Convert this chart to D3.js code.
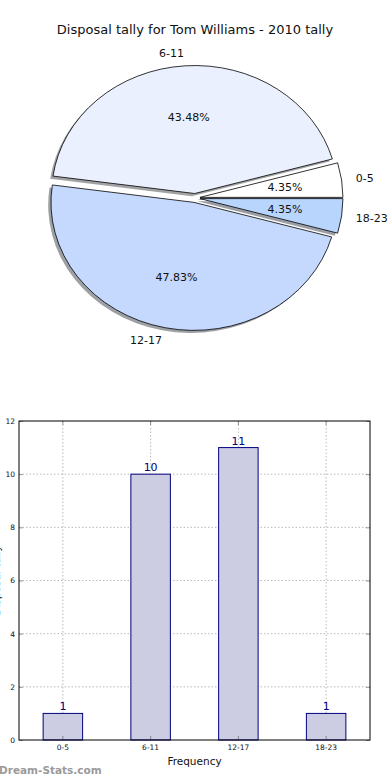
<!DOCTYPE html>
<html><head><meta charset="utf-8">
<script src="https://cdn.jsdelivr.net/npm/d3@7"></script>
<style>body{margin:0;background:#fff}svg{display:block;font-family:"DejaVu Sans",sans-serif}</style>
</head><body>
<svg id="c" width="390" height="780"></svg>
<script>
const categories = ["0-5", "6-11", "12-17", "18-23"];
const values = [1, 10, 11, 1];
const pieColors = ["#ffffff", "#eaf0fd", "#c5d8fd", "#b8d5fd"];
const yTicks = [0, 2, 4, 6, 8, 10, 12];
const title = "Disposal tally for Tom Williams - 2010 tally";

const svg = d3.select("#c");

// ---------- Pie ----------
const cx = 195, cy = 198, rx = 143, ry = 128, explode = 0.035;
svg.append("text").attr("x", 195).attr("y", 34).attr("text-anchor", "middle")
  .attr("font-size", 13).attr("fill", "#111").text(title);

const pie = d3.pie().sort(null).startAngle(Math.PI / 2).endAngle(Math.PI / 2 - 2 * Math.PI);
const arcs = pie(values);
const arc = d3.arc().innerRadius(0).outerRadius(rx);
const total = d3.sum(values);
const fmt = d3.format(".2f");

function off(a) {
  const m = (a.startAngle + a.endAngle) / 2;
  return [explode * rx * Math.sin(m), -explode * ry * Math.cos(m), m];
}
function shade(c) { const r = d3.rgb(c); return d3.rgb(r.r * 0.3, r.g * 0.3, r.b * 0.3).toString(); }

const pg = svg.append("g");
// shadows
arcs.forEach((a, i) => {
  const [ox, oy] = off(a);
  pg.append("g").attr("transform", `translate(${cx + ox - 2.8},${cy + oy + 2.6}) scale(1,${ry / rx})`)
    .append("path").attr("d", arc(a)).attr("fill", shade(pieColors[i])).attr("opacity", 0.5);
});
// wedges
arcs.forEach((a, i) => {
  const [ox, oy] = off(a);
  pg.append("g").attr("transform", `translate(${cx + ox},${cy + oy}) scale(1,${ry / rx})`)
    .append("path").attr("d", arc(a)).attr("fill", pieColors[i])
    .attr("stroke", "#000").attr("stroke-width", 0.8).attr("vector-effect", "non-scaling-stroke")
    .attr("stroke-linejoin", "round");
});
// labels
arcs.forEach((a, i) => {
  const [ox, oy, m] = off(a);
  const sx = Math.sin(m), cyy = Math.cos(m);
  const lx = cx + ox + 1.1 * rx * sx, ly = cy + oy - 1.1 * ry * cyy;
  svg.append("text").attr("x", lx).attr("y", ly).attr("dy", "0.35em")
    .attr("text-anchor", sx < 0 ? "end" : "start").attr("font-size", 11).attr("fill", "#111")
    .text(categories[i]);
  const px = cx + ox + 0.6 * rx * sx, py = cy + oy - 0.6 * ry * cyy;
  svg.append("text").attr("x", px).attr("y", py).attr("dy", "0.35em")
    .attr("text-anchor", "middle").attr("font-size", 11).attr("fill", "#111")
    .text(fmt(values[i] / total * 100) + "%");
});

// ---------- Bar chart ----------
const L = 19, R = 370, T = 421, B = 740;
const x = d3.scaleBand().domain(categories).range([L, R]).paddingInner(0.55).paddingOuter(0.275);
const y = d3.scaleLinear().domain([0, 12]).range([B, T]);
const bg = svg.append("g");

// grid
bg.selectAll(".hg").data(yTicks.slice(1, -1)).join("line")
  .attr("x1", L).attr("x2", R).attr("y1", d => y(d)).attr("y2", d => y(d))
  .attr("stroke", "#b8b8b8").attr("stroke-width", 1).attr("stroke-dasharray", "1.5,2");
bg.selectAll(".vg").data(categories).join("line")
  .attr("x1", d => x(d) + x.bandwidth() / 2).attr("x2", d => x(d) + x.bandwidth() / 2)
  .attr("y1", T).attr("y2", B)
  .attr("stroke", "#b8b8b8").attr("stroke-width", 1).attr("stroke-dasharray", "1.5,2");

// bars
bg.selectAll(".bar").data(values).join("rect")
  .attr("x", (d, i) => x(categories[i])).attr("width", x.bandwidth())
  .attr("y", d => y(d)).attr("height", d => y(0) - y(d))
  .attr("fill", "#ccccE3").attr("stroke", "#000080").attr("stroke-width", 1);
bg.selectAll(".bl").data(values).join("text")
  .attr("x", (d, i) => x(categories[i]) + x.bandwidth() / 2).attr("y", d => y(d) - 3)
  .attr("text-anchor", "middle").attr("font-size", 11).attr("fill", "#000080").text(d => d);

// axes
const yAxis = d3.axisLeft(y).tickValues(yTicks).tickSize(-4).tickPadding(4);
const ya = bg.append("g").attr("transform", `translate(${L},0)`).call(yAxis);
ya.selectAll("text").attr("font-size", 7.5).attr("fill", "#111").attr("font-family", "DejaVu Sans");
ya.select(".domain").remove();
ya.selectAll(".tick line").attr("stroke", "#555").attr("stroke-width", 0.6);
const yAxisR = d3.axisRight(y).tickValues(yTicks).tickSize(-4).tickFormat("");
const yr = bg.append("g").attr("transform", `translate(${R},0)`).call(yAxisR);
yr.select(".domain").remove();
yr.selectAll(".tick line").attr("stroke", "#555").attr("stroke-width", 0.6);

const xAxis = d3.axisBottom(x).tickSize(-4).tickPadding(5);
const xa = bg.append("g").attr("transform", `translate(0,${B})`).call(xAxis);
xa.selectAll("text").attr("font-size", 7.5).attr("fill", "#111").attr("font-family", "DejaVu Sans");
xa.select(".domain").remove();
xa.selectAll(".tick line").attr("stroke", "#555").attr("stroke-width", 0.6);
const xAxisT = d3.axisTop(x).tickSize(-4).tickFormat("");
const xt = bg.append("g").attr("transform", `translate(0,${T})`).call(xAxisT);
xt.select(".domain").remove();
xt.selectAll(".tick line").attr("stroke", "#555").attr("stroke-width", 0.6);

bg.append("rect").attr("x", L).attr("y", T).attr("width", R - L).attr("height", B - T)
  .attr("fill", "none").attr("stroke", "#000").attr("stroke-width", 1);

svg.append("text").attr("x", (L + R) / 2).attr("y", 765).attr("text-anchor", "middle")
  .attr("font-size", 10.5).attr("fill", "#111").text("Frequency");
svg.append("text").attr("transform", `translate(0,${(T + B) / 2}) rotate(-90)`)
  .attr("text-anchor", "middle").attr("font-size", 10.5).attr("fill", "#111").text("Disposal tally");
svg.append("text").attr("x", -1).attr("y", 774).attr("font-size", 10.5).attr("font-weight", "bold")
  .attr("fill", "#9a9a9a").text("Dream-Stats.com");
</script>
</body></html>
